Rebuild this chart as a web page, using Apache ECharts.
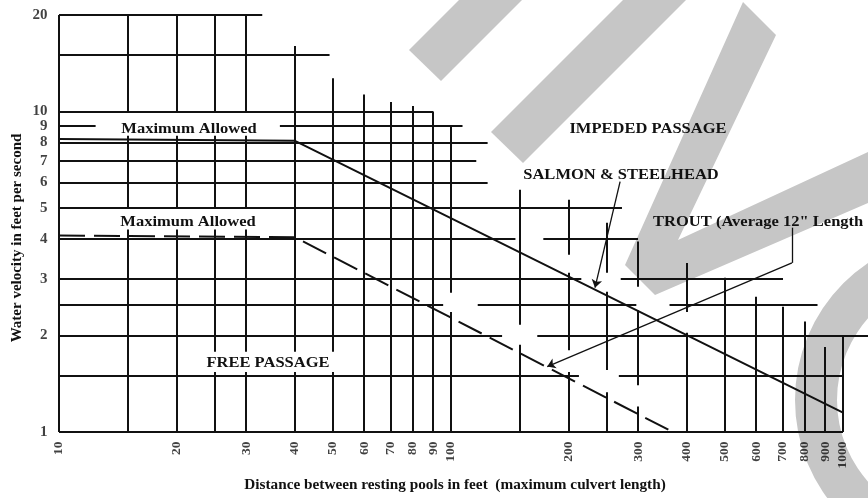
<!DOCTYPE html>
<html>
<head>
<meta charset="utf-8">
<script src="https://cdn.jsdelivr.net/npm/echarts@6/dist/echarts.min.js"></script>
<style>html,body{margin:0;padding:0;background:#fff}#c{width:868px;height:498px}</style>
</head>
<body>
<div id="c"></div>
<script>
// ---- data (feet, feet per second) ----
const xTicks = [10, 20, 30, 40, 50, 60, 70, 80, 90, 100, 200, 300, 400, 500, 600, 700, 800, 900, 1000];
const yTicks = [1, 2, 3, 4, 5, 6, 7, 8, 9, 10, 20];

// horizontal grid segments: [velocity, fromDistance, toDistance]
const hGrid = [
  [20, 10, 33], [15, 10, 49], [10, 10, 90],
  [9, 10, 12.4], [9, 36.6, 107],
  [8, 10, 124], [7, 10, 116], [6, 10, 124], [5, 10, 273],
  [4, 10, 146], [4, 172, 300],
  [3, 10, 215], [3, 271, 703],
  [2.5, 10, 95.5], [2.5, 117, 297], [2.5, 361, 861],
  [2, 10, 135], [2, 166, 1160],
  [1.5, 10, 212], [1.5, 268, 1000],
  [1, 10, 1000]
];
// vertical grid segments: [distance, fromVelocity, toVelocity]
const vGrid = [
  [10, 1, 20],
  [15, 10, 20], [15, 5, 8.4], [15, 1, 4.28],
  [20, 10, 20], [20, 5, 8.4], [20, 1, 4.28],
  [25, 10, 20], [25, 5, 8.4], [25, 1.78, 4.28], [25, 1, 1.54],
  [30, 10, 20], [30, 5, 8.4], [30, 1.78, 4.28], [30, 1, 1.54],
  [40, 1.78, 16], [40, 1, 1.54],
  [50, 1.78, 12.7], [50, 1, 1.54],
  [60, 1, 11.3], [70, 1, 10.7], [80, 1, 10.4], [90, 1, 10],
  [100, 2.72, 9.0], [100, 1, 2.37],
  [150, 2.16, 5.7], [150, 1, 1.87],
  [200, 3.57, 5.3], [200, 1.8, 3.14], [200, 1, 1.54],
  [250, 3.14, 4.5], [250, 1.56, 2.74], [250, 1, 1.33],
  [300, 2.84, 3.93], [300, 1.4, 2.4], [300, 1, 1.2],
  [400, 2.37, 3.37], [400, 1, 2.04],
  [500, 1, 3.03], [600, 1, 2.64], [700, 1, 2.46], [800, 1, 2.21],
  [900, 1, 1.84], [1000, 1, 2]
];

const salmonLine = [[10, 8.2], [40, 8.1], [1000, 1.15]];
const troutLine = [[10, 4.1], [40, 4.05], [368, 1]];

const salmonArrow = [[270, 6.04], [233, 2.82]];
const troutArrowStem = [[741, 4.34], [741, 3.37]];
const troutArrow = [[741, 3.37], [176, 1.6]];

// ---- chart ----
const SERIF = '"Liberation Serif","Times New Roman",serif';
const INK = '#111';
const GREY = '#c6c6c6';

const gridSegs = hGrid.map(([y, a, b]) => ({ coords: [[a, y], [b, y]] }))
  .concat(vGrid.map(([x, a, b]) => ({ coords: [[x, a], [x, b]] })));

function txt(text, x, y, size, align, sx, rot) {
  return {
    type: 'text', x: x, y: y, scaleX: sx || 1, rotation: rot || 0, z: 20, silent: true,
    style: {
      text: text, font: 'bold ' + size + 'px ' + SERIF, fill: INK,
      align: align || 'center', verticalAlign: 'middle',
      textAlign: align || 'center', textVerticalAlign: 'middle'
    }
  };
}

const chart = echarts.init(document.getElementById('c'), null, { renderer: 'canvas' });
chart.setOption({
  animation: false,
  backgroundColor: '#fff',
  grid: { left: 59, right: 25, top: 15, bottom: 66, containLabel: false, outerBoundsMode: 'none' },
  xAxis: {
    type: 'log', logBase: 10, min: 10, max: 1000,
    axisLine: { show: false }, axisTick: { show: false },
    axisLabel: { show: false }, splitLine: { show: false }
  },
  yAxis: {
    type: 'log', logBase: 10, min: 1, max: 20,
    axisLine: { show: false }, axisTick: { show: false },
    axisLabel: { show: false }, splitLine: { show: false }
  },
  graphic: {
    elements: [
      { type: 'polygon', z: 0, silent: true, shape: { points: [[409, 50], [459, 0], [522, 0], [441, 81]] }, style: { fill: GREY } },
      { type: 'polygon', z: 0, silent: true, shape: { points: [[491, 132], [623, 0], [686, 0], [523, 163]] }, style: { fill: GREY } },
      { type: 'polygon', z: 0, silent: true, shape: { points: [[743, 2], [776, 35], [678, 240], [868, 152], [868, 203], [655, 295], [625, 265]] }, style: { fill: GREY } },
      { type: 'ring', z: 0, silent: true, shape: { cx: 960, cy: 400, r: 165, r0: 123 }, style: { fill: GREY } },
      txt('Maximum Allowed', 189, 129, 14, 'center', 1.18),
      txt('Maximum Allowed', 188, 222, 14, 'center', 1.18),
      txt('IMPEDED PASSAGE', 648, 129, 14, 'center', 1.18),
      txt('SALMON & STEELHEAD', 621, 175, 14, 'center', 1.18),
      txt('TROUT (Average 12" Length', 653, 222, 14, 'left', 1.18),
      txt('FREE PASSAGE', 268, 363, 14, 'center', 1.18),
      txt('Distance between resting pools in feet  (maximum culvert length)', 455, 485, 14, 'center', 1.09),
      txt('Water velocity in feet per second', 17, 238, 15, 'center', 1, Math.PI / 2)
    ]
  },
  series: [
    {
      type: 'lines', coordinateSystem: 'cartesian2d', silent: true, clip: false, z: 3,
      lineStyle: { color: INK, width: 2, opacity: 1 },
      data: gridSegs
    },
    {
      type: 'line', data: salmonLine, symbol: 'none', silent: true, clip: false, z: 4,
      lineStyle: { color: INK, width: 2 }
    },
    {
      type: 'line', data: troutLine, symbol: 'none', silent: true, clip: false, z: 4,
      lineStyle: { color: INK, width: 2, type: [26, 9] }
    },
    {
      type: 'lines', coordinateSystem: 'cartesian2d', silent: true, clip: false, z: 4,
      symbol: ['none', 'arrow'], symbolSize: 8,
      lineStyle: { color: INK, width: 1.3, opacity: 1 },
      data: [{ coords: salmonArrow }, { coords: troutArrow }]
    },
    {
      type: 'lines', coordinateSystem: 'cartesian2d', silent: true, clip: false, z: 4,
      lineStyle: { color: INK, width: 1.3, opacity: 1 },
      data: [{ coords: troutArrowStem }]
    },
    {
      type: 'scatter', silent: true, clip: false, symbolSize: 1, z: 5,
      itemStyle: { color: 'rgba(0,0,0,0)' },
      data: xTicks.map(v => [v, 1]),
      label: {
        show: true, position: 'bottom', distance: 9, rotate: 90,
        align: 'right', verticalAlign: 'middle',
        formatter: p => String(p.value[0]),
        fontFamily: SERIF, fontWeight: 'bold', fontSize: 13.5, color: INK
      }
    },
    {
      type: 'scatter', silent: true, clip: false, symbolSize: 1, z: 5,
      itemStyle: { color: 'rgba(0,0,0,0)' },
      data: yTicks.map(v => [10, v]),
      label: {
        show: true, position: 'left', distance: 11,
        align: 'right', verticalAlign: 'middle',
        formatter: p => String(p.value[1]),
        fontFamily: SERIF, fontWeight: 'bold', fontSize: 15, color: INK
      }
    }
  ]
});
</script>
</body>
</html>
